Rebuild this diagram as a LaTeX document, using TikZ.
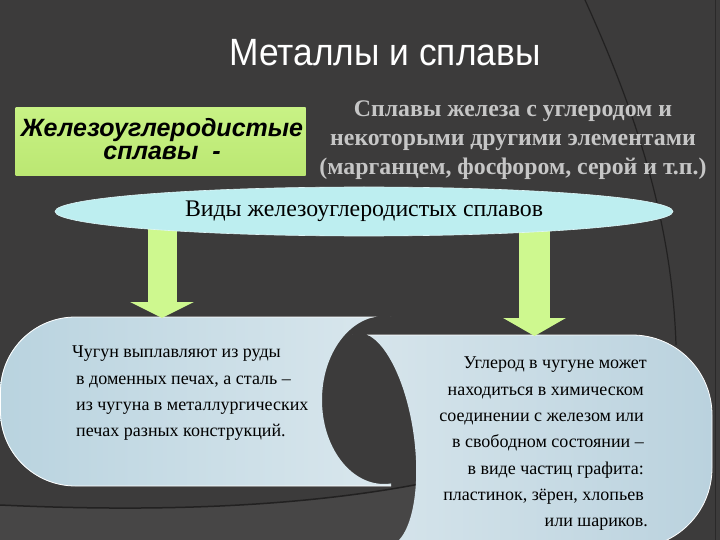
\documentclass[tikz,border=0pt]{standalone}
\usepackage{fontspec}
\setmainfont{Liberation Serif}
\newfontfamily\sansfont{Liberation Sans}
\usetikzlibrary{arrows.meta,shapes.geometric}
\definecolor{bgc}{HTML}{3C3B3B}
\definecolor{bandc}{HTML}{474646}
\definecolor{curvec}{HTML}{222121}
\definecolor{boxgreenA}{HTML}{C8F285}
\definecolor{boxgreenB}{HTML}{BBE772}
\definecolor{arrowgreen}{HTML}{CEF88F}
\definecolor{cyanfill}{HTML}{BDEEF0}
\definecolor{deftext}{HTML}{C6C6C6}
\definecolor{panelA}{HTML}{B9D3DF}
\definecolor{panelB}{HTML}{E0EBF0}
\definecolor{panelC}{HTML}{E0EBF0}
\definecolor{panelD}{HTML}{BAD2DE}
\pgfdeclarelayer{back}
\pgfdeclarelayer{mid}
\pgfsetlayers{back,mid,main}
\tikzset{
  bigarrow/.style={draw=arrowgreen, line width=29pt,
    -{Triangle[width=63pt,length=16pt,fill=arrowgreen]}},
  bigarrowb/.style={draw=arrowgreen, line width=31pt,
    -{Triangle[width=62pt,length=18pt,fill=arrowgreen]}},
  paneltext/.style={font=\fontsize{18}{26.3}\selectfont, text=black, inner sep=0pt},
}
\begin{document}
\begin{tikzpicture}[x=1pt,y=-1pt]
\useasboundingbox (0,0) rectangle (720,540);

% nodes
\node[font=\sansfont\fontsize{38}{40}\selectfont, text=white, xscale=0.93, inner sep=0pt] (title) at (385,52.5) {Металлы и сплавы};

\node[rectangle, top color=boxgreenA, bottom color=boxgreenB, minimum width=290pt, minimum height=68pt,
  inner sep=0pt] (gbox) at (160.5,142) {};
\node[align=center, inner sep=0pt, font=\sansfont\bfseries\itshape\fontsize{25}{23}\selectfont] (gtext) at (162,139)
  {Железоуглеродистые\\сплавы\ \ -};

\node[font=\bfseries\fontsize{23.8}{29}\selectfont, text=deftext, align=center, inner sep=0pt] (def) at (513,140)
  {Сплавы железа с углеродом и\\некоторыми другими элементами\\(марганцем, фосфором, серой и т.п.)};

\node[ellipse, fill=cyanfill, draw=cyanfill!50!white, line width=0.6pt, minimum width=618pt, minimum height=49pt,
  inner sep=0pt, font=\fontsize{23.8}{26}\selectfont] (kinds) at (364,211.5) {Виды железоуглеродистых сплавов};

\node[paneltext, align=left, anchor=north west] (ltext) at (76,346)
  {\hspace*{-4pt}Чугун выплавляют из руды\\в доменных печах, а сталь –\\из чугуна в металлургических\\печах разных конструкций.};

\node[paneltext, align=right, anchor=north east] (rtext) at (644,357)
  {Углерод в чугуне может\hspace*{-3pt}\\находиться в химическом\\соединении с железом или\\в свободном состоянии –\\в виде частиц графита:\\пластинок, зёрен, хлопьев\\или шариков.\hspace*{-4pt}};

\coordinate (t1) at (162,318);
\coordinate (t2) at (534.5,336);

\begin{pgfonlayer}{back}
  \fill[bgc] (0,0) rectangle (720,540);
  \fill[bandc] (0,505) .. controls (150,512) and (300,508) .. (430,482) -- (430,540) -- (0,540) -- cycle;
  \draw[curvec, line width=1.5pt] (0,505) .. controls (150,512) and (300,508) .. (430,482);
  \draw[curvec, line width=1.2pt] (585,0) .. controls (635,110) and (672,220) .. (676,345);
  \draw[curvec!70!bgc, line width=1pt] (715,0) -- (715,540);
  % left panel
  \begin{scope}
    \clip (-10,300) rectangle (391,500);
    \begin{scope}[even odd rule]
      \clip (-10,300) rectangle (470,500) (384,400) ellipse [x radius=62, y radius=84];
      \shade[left color=panelA, right color=panelB, rounded corners=75pt] (0,317) rectangle (470,486);
      \draw[white, line width=0.8pt, rounded corners=75pt] (0.5,317) rectangle (470,486);
    \end{scope}
  \end{scope}
  % right panel
  \begin{scope}
    \clip (352,320) -- (730,320) -- (730,560) -- (378,560) -- (378,440) -- (352,440) -- cycle;
    \begin{scope}[even odd rule]
      \clip (280,320) rectangle (730,560) [rotate around={8:(372,440)}] (372,440) ellipse [x radius=42, y radius=108];
      \shade[left color=panelC, right color=panelD, rounded corners=80pt] (250,335) rectangle (712,548);
      \draw[white, line width=0.8pt, rounded corners=80pt] (250,335) rectangle (712,548);
    \end{scope}
  \end{scope}
\end{pgfonlayer}

\begin{pgfonlayer}{mid}
  \draw[bigarrow] (kinds.center -| t1) -- (t1);
  \draw[bigarrowb] (kinds.center -| t2) -- (t2);
\end{pgfonlayer}
\end{tikzpicture}
\end{document}
